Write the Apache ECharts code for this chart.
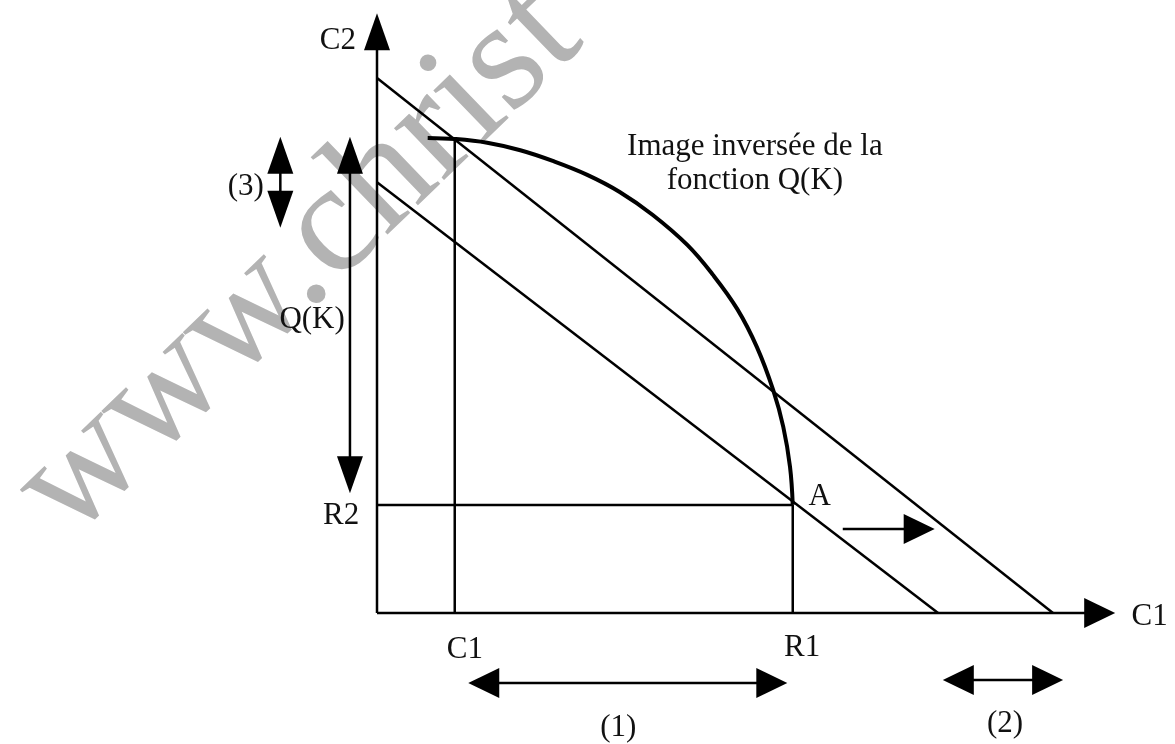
<!DOCTYPE html>
<html>
<head>
<meta charset="utf-8">
<script src="https://cdn.jsdelivr.net/npm/echarts@6/dist/echarts.min.js"></script>
<style>
  html, body { margin: 0; padding: 0; background: #fff; }
  #chart { width: 1175px; height: 744px; }
</style>
</head>
<body>
<div id="chart"></div>
<script>
// diagram values, in model units (C1 across, C2 up)
var budgetOuter = [[0, 10], [10, 0]];
var budgetInner = [[0, 8.05], [8.3, 0]];
var frontier = [[0.75, 8.88], [1.15, 8.86], [1.63, 8.79], [2.12, 8.65], [2.60, 8.45], [3.11, 8.19],
                [3.59, 7.87], [4.08, 7.44], [4.59, 6.88], [4.97, 6.32], [5.33, 5.68], [5.62, 4.97],
                [5.86, 4.17], [6.01, 3.48], [6.11, 2.73], [6.15, 2.02]];
// [x1, y1, x2, y2, heads]  heads: 0 none, 1 at end, 2 both ends
var guides = [[1.15, 0, 1.15, 8.86, 0], [0, 2.02, 6.15, 2.02, 0], [6.15, 0, 6.15, 2.02, 0]];
var axes = [[0, 0, 0, 11.21, 1], [0, 0, 10.92, 0, 1]];
var arrows = [[-0.40, 2.24, -0.40, 8.90, 2], [-1.43, 7.20, -1.43, 8.90, 2], [6.89, 1.57, 8.25, 1.57, 1],
              [1.35, -1.31, 6.07, -1.31, 2], [8.37, -1.25, 10.15, -1.25, 2]];
var labelText = ['C2', 'R2', 'C1', 'R1', 'A', 'C1', 'Q(K)', '(3)', '(1)', '(2)', 'Image inversée de la', 'fonction Q(K)'];
var labelPos = [[-0.58, 10.69], [-0.53, 1.81], [1.30, -0.69], [6.29, -0.65], [6.55, 2.17], [11.43, -0.07],
                [-0.96, 5.48], [-1.94, 7.96], [3.57, -2.15], [9.29, -2.07], [5.59, 8.72], [5.59, 8.07]];

var FONT = '31px "Liberation Serif", "Times New Roman", serif';

var chart = echarts.init(document.getElementById('chart'));

function renderArrow(params, api) {
  var a = api.coord([api.value(0), api.value(1)]);
  var b = api.coord([api.value(2), api.value(3)]);
  var heads = api.value(4);
  var dx = b[0] - a[0], dy = b[1] - a[1];
  var len = Math.sqrt(dx * dx + dy * dy);
  var ux = dx / len, uy = dy / len;
  // heads look a bit taller on vertical arrows in the original
  var vertical = Math.abs(uy) > Math.abs(ux);
  var L = vertical ? 37 : 31, W = vertical ? 13 : 15;
  var s = heads === 2 ? [a[0] + ux * (L - 2), a[1] + uy * (L - 2)] : a;
  var e = heads >= 1 ? [b[0] - ux * (L - 2), b[1] - uy * (L - 2)] : b;
  var kids = [{
    type: 'line',
    shape: { x1: s[0], y1: s[1], x2: e[0], y2: e[1] },
    style: { stroke: '#000', lineWidth: 2.5 }
  }];
  function head(tip, vx, vy) {
    var bx = tip[0] - vx * L, by = tip[1] - vy * L;
    return {
      type: 'polygon',
      shape: { points: [tip, [bx - vy * W, by + vx * W], [bx + vy * W, by - vx * W]] },
      style: { fill: '#000' }
    };
  }
  if (heads >= 1) kids.push(head(b, ux, uy));
  if (heads === 2) kids.push(head(a, -ux, -uy));
  return { type: 'group', children: kids };
}

function renderLabel(params, api) {
  var p = api.coord([api.value(0), api.value(1)]);
  return {
    type: 'text',
    x: p[0], y: p[1],
    style: {
      text: labelText[params.dataIndex],
      font: FONT,
      fill: '#111',
      align: 'center', verticalAlign: 'middle',
      textAlign: 'center', textVerticalAlign: 'middle'
    }
  };
}

var option = {
  animation: false,
  backgroundColor: '#fff',
  grid: { left: 377, right: 122, top: 78, bottom: 131 },
  xAxis: { type: 'value', min: 0, max: 10, show: false },
  yAxis: { type: 'value', min: 0, max: 10, show: false },
  graphic: [{
    type: 'text',
    x: 41, y: 512,
    rotation: 44 * Math.PI / 180,
    z: -10,
    silent: true,
    style: {
      text: 'www.christ',
      font: '157px "Liberation Serif", serif',
      fill: '#b3b3b3',
      align: 'left', verticalAlign: 'middle',
      textAlign: 'left', textVerticalAlign: 'middle'
    }
  }],
  series: [
    {
      type: 'line', data: budgetOuter, showSymbol: false, silent: true,
      lineStyle: { color: '#000', width: 2.5 }
    },
    {
      type: 'line', data: budgetInner, showSymbol: false, silent: true,
      lineStyle: { color: '#000', width: 2.5 }
    },
    {
      type: 'line', data: frontier, showSymbol: false, silent: true, smooth: 0.4,
      lineStyle: { color: '#000', width: 4 }
    },
    { type: 'custom', renderItem: renderArrow, data: guides.concat(axes).concat(arrows), silent: true },
    { type: 'custom', renderItem: renderLabel, data: labelPos, silent: true }
  ]
};

chart.setOption(option);
</script>
</body>
</html>
